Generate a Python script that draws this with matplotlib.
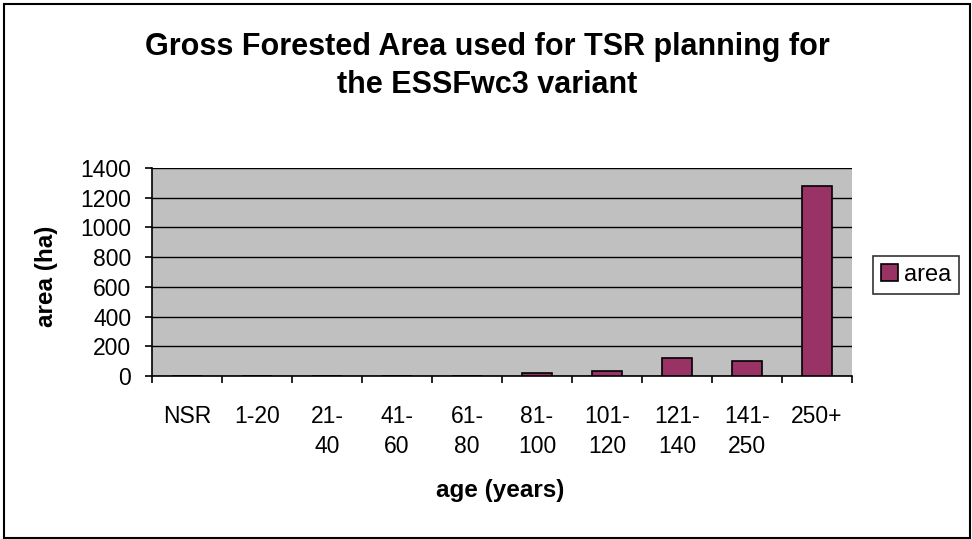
import numpy as np
import matplotlib.pyplot as plt
from matplotlib.patches import Rectangle

# age classes and gross forested area (ha)
age_classes = ['NSR', '1-20', '21-\n40', '41-\n60', '61-\n80', '81-\n100',
               '101-\n120', '121-\n140', '141-\n250', '250+']
area = [0, 0, 0, 0, 0, 17, 35, 120, 100, 1277]
y_ticks = [0, 200, 400, 600, 800, 1000, 1200, 1400]

plt.rcParams['font.family'] = ['Liberation Sans', 'DejaVu Sans']

W, H = 972, 539
fig = plt.figure(figsize=(W / 100, H / 100), dpi=100)
# plot area in pixels: x 152..852, y 168..376
ax = fig.add_axes([152 / W, 1 - 376 / H, 700 / W, 208 / H])

x = np.arange(len(age_classes))
ax.bar(x, area, width=0.42, color='#993366', edgecolor='black',
       linewidth=1.2, zorder=3, label='area')

ax.set_facecolor('#C0C0C0')
ax.set_xlim(-0.5, len(age_classes) - 0.5)
ax.set_ylim(0, 1400)
ax.set_yticks(y_ticks)
ax.set_yticklabels([str(v) for v in y_ticks], fontsize=16.5)
ax.yaxis.grid(True, color='black', linewidth=1.0, zorder=1)
ax.set_axisbelow(True)

# ticks between the categories, labels centred under each bar
ax.set_xticks(np.arange(len(age_classes) + 1) - 0.5)
ax.set_xticklabels([])
ax.set_xticks(x, minor=True)
ax.set_xticklabels(age_classes, minor=True, fontsize=16.5, linespacing=1.38)
ax.tick_params(axis='x', which='minor', length=0, pad=21)
ax.tick_params(axis='x', which='major', length=5, width=1.2, direction='out')
ax.tick_params(axis='y', length=5, width=1.2, direction='out', pad=10)

for side in ['top', 'right']:
    ax.spines[side].set_visible(False)
ax.spines['left'].set_linewidth(1.2)
ax.spines['bottom'].set_linewidth(1.2)

fig.text(47 / W, 1 - 276 / H, 'area (ha)', fontsize=17.5, fontweight='bold',
         ha='center', va='center', rotation=90)
fig.text(500 / W, 1 - 490 / H, 'age (years)', fontsize=17.5,
         fontweight='bold', ha='center', va='center')

fig.text(487 / W, 1 - 55 / H, 'Gross Forested Area used for TSR planning for',
         fontsize=22, fontweight='bold', ha='center', va='baseline')
fig.text(487 / W, 1 - 93 / H, 'the ESSFwc3 variant',
         fontsize=22, fontweight='bold', ha='center', va='baseline')

leg = ax.legend(loc='center left', bbox_to_anchor=(873 / W, 1 - 275 / H),
                bbox_transform=fig.transFigure, fontsize=17, frameon=True,
                fancybox=False, handlelength=0.7, handleheight=0.7,
                handletextpad=0.25, borderpad=0.35, borderaxespad=0)
leg.get_frame().set_edgecolor('black')
leg.get_frame().set_linewidth(1.2)

fig.patches.append(Rectangle((4 / W, 1.5 / H), 966 / W, 533.5 / H,
                             transform=fig.transFigure, fill=False,
                             edgecolor='black', linewidth=1.5))

fig.savefig('out.png', dpi=100)
